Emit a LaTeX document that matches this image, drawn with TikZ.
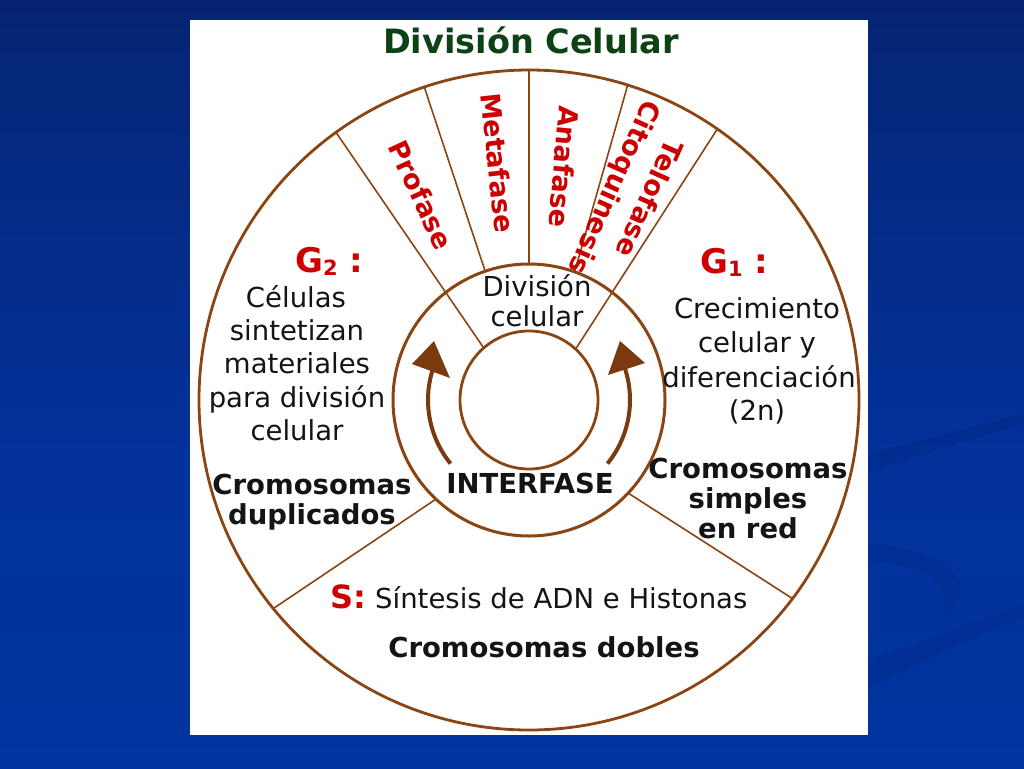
\documentclass[tikz,border=0pt]{standalone}
\usepackage{fontspec}
\setmainfont{DejaVu Sans}
\definecolor{brownline}{RGB}{139,69,19}
\definecolor{arrowbrown}{RGB}{122,58,14}
\definecolor{phasered}{RGB}{204,0,0}
\definecolor{titlegreen}{RGB}{12,66,20}
\definecolor{txt}{RGB}{20,20,20}
\definecolor{bgA}{RGB}{0,0,14}
\definecolor{bgB}{RGB}{2,18,70}
\definecolor{bgC}{RGB}{5,38,120}
\definecolor{bgD}{RGB}{3,50,155}
\definecolor{bgE}{RGB}{0,56,165}
\definecolor{swoosh}{RGB}{0,38,125}
\pgfdeclareverticalshading{slidebg}{100bp}{color(0bp)=(bgE); color(45bp)=(bgD); color(72bp)=(bgC); color(90bp)=(bgB); color(100bp)=(bgA)}
\tikzset{
  ring/.style={draw=brownline, line width=2.8pt},
  spoke/.style={draw=brownline, line width=1.6pt},
  cyclearc/.style={draw=arrowbrown, line width=4pt},
  cyclehead/.style={fill=arrowbrown},
  body/.style={text=txt, font=\fontsize{27.5}{33}\selectfont, inner sep=0pt, anchor=base},
  bodybold/.style={text=txt, font=\fontsize{27.5}{33}\selectfont\bfseries, inner sep=0pt, anchor=base},
  phase/.style={text=phasered, font=\fontsize{27}{32}\selectfont\bfseries, inner sep=0pt, anchor=center},
  gname/.style={text=phasered, font=\fontsize{34}{38}\selectfont\bfseries, inner sep=0pt, anchor=base west},
  titletext/.style={text=titlegreen, font=\fontsize{33.5}{38}\selectfont\bfseries, inner sep=0pt, anchor=base}
}
\newcommand{\gsub}[1]{\raisebox{-3pt}{\fontsize{21}{21}\selectfont #1}}
\begin{document}
\begin{tikzpicture}[x=1pt,y=-1pt]
\useasboundingbox (0,0) rectangle (1024,768);
% slide background
\shade[shading=slidebg] (0,0) rectangle (1024,768);
\fill[swoosh, opacity=0.3] (868,452) .. controls (930,440) and (980,424) .. (1024,414) -- (1024,424) .. controls (980,436) and (930,452) .. (868,474) -- cycle;
\fill[swoosh, opacity=0.3] (868,660) .. controls (930,640) and (980,620) .. (1024,604) -- (1024,618) .. controls (980,634) and (930,656) .. (868,690) -- cycle;
\fill[swoosh, opacity=0.25] (868,545) .. controls (950,546) and (990,590) .. (935,622) .. controls (962,590) and (930,562) .. (868,562) -- cycle;
% white panel
\fill[white] (190,20) rectangle (868,735);
% wheel
\begin{scope}[shift={(529,400)}, yscale=-1]
  \draw[ring] (0,0) circle[radius=330];
  \draw[ring, line width=3pt] (0,0) circle[radius=136];
  \draw[ring] (0,0) circle[radius=69];
  \draw[spoke] (125.8:330) -- (131:69);
  \draw[spoke] (108.5:330) -- (108.8:136);
  \draw[spoke] (90:330) -- (90:136);
  \draw[spoke] (72.6:330) -- (70.4:136);
  \draw[spoke] (55.2:330) -- (47.5:69);
  \draw[spoke] (226.8:136) -- (219.2:330);
  \draw[spoke] (-43.2:136) -- (-37:330);
  \draw[cyclearc] (219:101) arc[start angle=219, end angle=162, radius=101];
  \draw[cyclearc] (-39:101) arc[start angle=-39, end angle=18, radius=101];
\end{scope}
\fill[cyclehead] (434,341) -- (450,378) -- (412,364) -- cycle;
\fill[cyclehead] (620,341) -- (645,363) -- (608,375) -- cycle;
% title
\node[titletext] (title) at (531,53) {División Celular};
% phases
\node[phase, rotate=-65] (profase) at (421,195) {Profase};
\node[phase, rotate=-84] (metafase) at (498,163) {Metafase};
\node[phase, rotate=-95] (anafase) at (564,167) {Anafase};
\node[phase, rotate=-114] (telofase) at (650,199) {Telofase};
\node[phase, rotate=-114] (citoq) at (613,187) {Citoquinesis};
% division celular (inner ring)
\node[body] (div1) at (537,296) {División};
\node[body] (div2) at (537,326) {celular};
\node[bodybold] (interfase) at (530,493) {INTERFASE};
% G2
\node[gname] (g2) at (295,272) {G\gsub{2}\hspace{12pt}:};
\node[body] (g2a) at (296,307) {Células};
\node[body] (g2b) at (297,340) {sintetizan};
\node[body] (g2c) at (297,373) {materiales};
\node[body] (g2d) at (297,407) {para división};
\node[body] (g2e) at (297,440) {celular};
\node[bodybold] (g2f) at (312,494) {Cromosomas};
\node[bodybold] (g2g) at (312,524) {duplicados};
% G1
\node[gname] (g1) at (700,273) {G\gsub{1}\hspace{12pt}:};
\node[body] (g1a) at (757,318) {Crecimiento};
\node[body] (g1b) at (757,352) {celular y};
\node[body] (g1c) at (759,387) {diferenciación};
\node[body] (g1d) at (757,420) {(2n)};
\node[bodybold] (g1e) at (748,478) {Cromosomas};
\node[bodybold] (g1f) at (748,508) {simples};
\node[bodybold] (g1g) at (748,538) {en red};
% S
\node[body] (s1) at (539,608) {{\fontsize{32}{36}\selectfont\bfseries\color{phasered}S:} Síntesis de ADN e Histonas};
\node[bodybold] (s2) at (544,657) {Cromosomas dobles};
\end{tikzpicture}
\end{document}
